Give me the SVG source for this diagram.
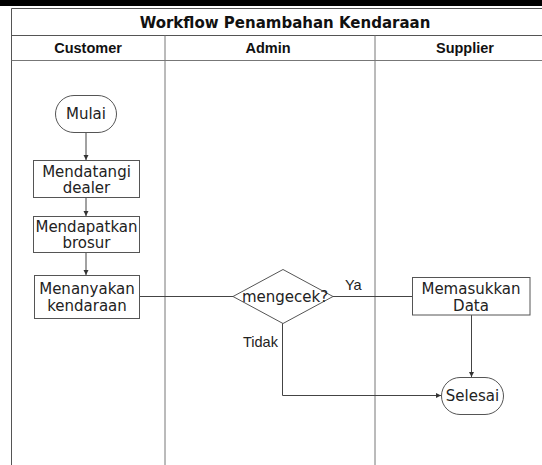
<svg xmlns="http://www.w3.org/2000/svg" width="542" height="465" viewBox="0 0 542 465">
<defs>
<style>
.frame{fill:none;stroke:#555;stroke-width:1}
.div{fill:none;stroke:#777;stroke-width:1}
.node{fill:#fff;stroke:#555;stroke-width:1}
.conn{fill:none;stroke:#444;stroke-width:1}
.t{font-family:"DejaVu Sans",Verdana,sans-serif;font-size:15px;fill:#222;text-anchor:middle}
.hdr{font-family:"Liberation Sans",Arial,sans-serif;font-size:14.5px;font-weight:bold;fill:#111;text-anchor:middle}
.title{font-family:"DejaVu Sans",Verdana,sans-serif;font-size:15px;font-weight:bold;fill:#111;text-anchor:middle}
.lbl{font-family:"Liberation Sans",Arial,sans-serif;font-size:14.5px;fill:#222}
</style>
<marker id="arr" markerWidth="6" markerHeight="6" refX="5" refY="3" orient="auto" markerUnits="userSpaceOnUse">
<path d="M0,0.5 L5,3 L0,5.5 Z" fill="#333"/>
</marker>
</defs>
<rect x="0" y="0" width="542" height="6" fill="#000"/>
<g id="pool">
<path class="frame" d="M11.5,465 V8.5 H560"/>
<path class="frame" d="M11.5,35.5 H560"/>
<path class="div" d="M11.5,60.5 H560"/>
<path class="div" d="M165,35.5 V465"/>
<path class="div" d="M375,35.5 V465"/>
<text class="title" x="285" y="28">Workflow Penambahan Kendaraan</text>
<text class="hdr" x="88" y="53">Customer</text>
<text class="hdr" x="268" y="53">Admin</text>
<text class="hdr" x="465" y="53">Supplier</text>
</g>
<g id="connectors">
<path class="conn" d="M86,133 V160" marker-end="url(#arr)"/>
<path class="conn" d="M86,198 V216" marker-end="url(#arr)"/>
<path class="conn" d="M86,252 V275" marker-end="url(#arr)"/>
<path class="conn" d="M140,296.5 H233"/>
<path class="conn" d="M333,296.5 H412.5"/>
<path class="conn" d="M471.5,315 V377" marker-end="url(#arr)"/>
<path class="conn" d="M282.5,323 V395.5 H441" marker-end="url(#arr)"/>
<text class="lbl" x="345" y="290">Ya</text>
<text class="lbl" x="243" y="347">Tidak</text>
</g>
<g id="mulai">
<rect class="node" x="55.5" y="95.5" width="61" height="37" rx="18.5"/>
<text class="t" x="86" y="119">Mulai</text>
</g>
<g id="mendatangi">
<rect class="node" x="33.5" y="160.5" width="106" height="37"/>
<text class="t" x="86.5" y="177">Mendatangi</text>
<text class="t" x="86.5" y="193">dealer</text>
</g>
<g id="mendapatkan">
<rect class="node" x="33.5" y="216.5" width="106" height="36"/>
<text class="t" x="86.5" y="232">Mendapatkan</text>
<text class="t" x="86.5" y="248">brosur</text>
</g>
<g id="menanyakan">
<rect class="node" x="34.5" y="275.5" width="105" height="43"/>
<text class="t" x="87" y="294">Menanyakan</text>
<text class="t" x="87" y="311">kendaraan</text>
</g>
<g id="mengecek">
<path class="node" d="M233,296.5 L283,269.5 L333,296.5 L283,323.5 Z"/>
<text class="t" x="285" y="302">mengecek?</text>
</g>
<g id="memasukkan">
<rect class="node" x="412.5" y="277.5" width="117.5" height="37.5"/>
<text class="t" x="471" y="294">Memasukkan</text>
<text class="t" x="471" y="311">Data</text>
</g>
<g id="selesai">
<rect class="node" x="441.5" y="377.5" width="62" height="37" rx="18.5"/>
<text class="t" x="472.5" y="401">Selesai</text>
</g>
</svg>
